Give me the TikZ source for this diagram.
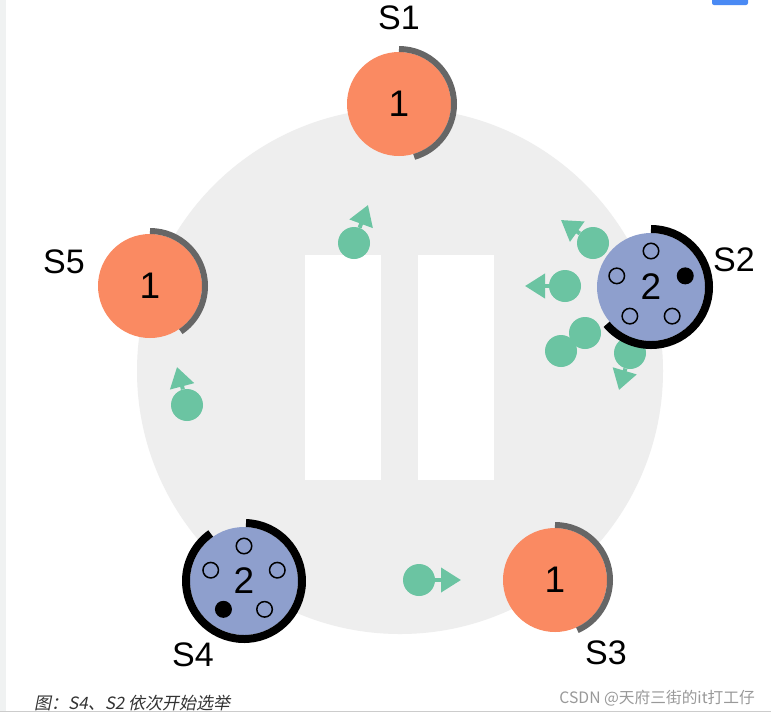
\documentclass[tikz,border=0pt]{standalone}
\usepackage{fontspec}
\setmainfont{Liberation Sans}
\newfontfamily\cjk{Noto Sans CJK SC}
\newfontfamily\cjkslant[FakeSlant=0.2]{Noto Sans CJK SC}
\usepackage{xcolor}
\usepackage{tikz}
\usetikzlibrary{arrows.meta}

\definecolor{followc}{HTML}{FA8A62}
\definecolor{candc}{HTML}{8E9FCD}
\definecolor{msgc}{HTML}{6BC4A2}
\definecolor{timerc}{HTML}{666666}
\definecolor{ringc}{HTML}{EEEEEE}
\definecolor{capc}{HTML}{333333}
\definecolor{wmc}{HTML}{999999}
\definecolor{stripc}{HTML}{F0F2F2}
\definecolor{tabc}{HTML}{4A8AF4}

\begin{document}
\begin{tikzpicture}[x=1pt, y=1pt,
  follower/.style={circle, fill=followc, minimum size=104pt, inner sep=0pt,
                   font=\fontsize{37}{37}\selectfont},
  candidate/.style={circle, fill=candc, minimum size=108pt, inner sep=0pt,
                    font=\fontsize{37}{37}\selectfont},
  vote/.style={circle, draw=black, line width=1.5pt, minimum size=15.5pt, inner sep=0pt},
  gotvote/.style={vote, fill=black},
  msg/.style={circle, fill=msgc, minimum size=32pt, inner sep=0pt},
  arr/.style={-{Triangle[length=20pt,width=24pt]}, line width=4pt, draw=msgc},
  timer/.style={line width=6pt, draw=timerc},
  elect/.style={line width=8pt, draw=black},
  lbl/.style={font=\fontsize{34}{34}\selectfont, inner sep=0pt}
]
\useasboundingbox (0,0) rectangle (771,-716);
\fill[white] (0,0) rectangle (771,-716);

%% Page frame bits
\fill[stripc] (0,0) rectangle (6,-711);
\draw[gray!40, line width=1pt] (0,-711) -- (771,-711);
\fill[tabc, rounded corners=2pt] (712,2) rectangle (748,-5);

%% Cluster ring and log columns
\fill[ringc] (400,-371) circle[radius=263];
\fill[white] (305,-255) rectangle (381,-480);
\fill[white] (418,-255) rectangle (494,-480);

%% Messages in flight
\node[msg] (m1) at (354,-243) {};
\coordinate (t1) at (368,-205);
\node[msg] (m2) at (187,-405) {};
\coordinate (t2) at (177,-367);
\node[msg] (m3) at (419,-580) {};
\coordinate (t3) at (461,-580);
\node[msg] (m4) at (593,-243) {};
\coordinate (t4) at (561,-220);
\node[msg] (m5) at (565,-286) {};
\coordinate (t5) at (525,-286);
\node[msg] (m6) at (585,-333) {};
\node[msg] (m7) at (561,-351) {};
\node[msg] (m8) at (630,-353) {};
\coordinate (t8) at (619,-390);

\draw[arr] (m1) -- (t1);
\draw[arr] (m2) -- (t2);
\draw[arr] (m3) -- (t3);
\draw[arr] (m4) -- (t4);
\draw[arr] (m5) -- (t5);
\draw[arr] (m8) -- (t8);

%% Followers (term 1)
\node[follower] (s1) at (399,-104) {1};
\node[follower] (s3) at (555,-580) {1};
\node[follower] (s5) at (150,-286) {1};
\draw[timer] ([shift={(90:55)}]s1.center) arc[start angle=90, end angle=-74, radius=55];
\draw[timer] ([shift={(90:55)}]s3.center) arc[start angle=90, end angle=-66, radius=55];
\draw[timer] ([shift={(90:55)}]s5.center) arc[start angle=90, end angle=-56, radius=55];

%% Candidates (term 2)
\node[candidate] (s2) at (651,-287) {2};
\node[candidate] (s4) at (244,-581) {2};
\draw[elect] ([shift={(90:58)}]s2.center) arc[start angle=90, end angle=-140, radius=58];
\draw[elect] ([shift={(88:58)}]s4.center) arc[start angle=88, end angle=-235, radius=58];

\foreach \a in {90,162,234,306}
  \node[vote] at ([shift={(\a:36)}]s2.center) {};
\node[gotvote] at ([shift={(18:36)}]s2.center) {};
\foreach \a in {90,162,306,18}
  \node[vote] at ([shift={(\a:35)}]s4.center) {};
\node[gotvote] at ([shift={(234:35)}]s4.center) {};

%% Server names
\node[lbl] (l1) at (399,-18) {S1};
\node[lbl] (l2) at (734,-260) {S2};
\node[lbl] (l3) at (606,-653) {S3};
\node[lbl] (l4) at (193,-655) {S4};
\node[lbl] (l5) at (64,-262) {S5};

%% Caption and watermark
\node[anchor=west, inner sep=0pt, text=capc, font=\cjkslant\fontsize{17}{17}\selectfont]
  (cap) at (34,-703) {图：S4、S2 依次开始选举};
\node[anchor=east, inner sep=0pt, text=wmc, font=\cjk\fontsize{15.7}{15.7}\selectfont]
  (wm) at (755,-698) {CSDN @天府三街的it打工仔};
\end{tikzpicture}
\end{document}
